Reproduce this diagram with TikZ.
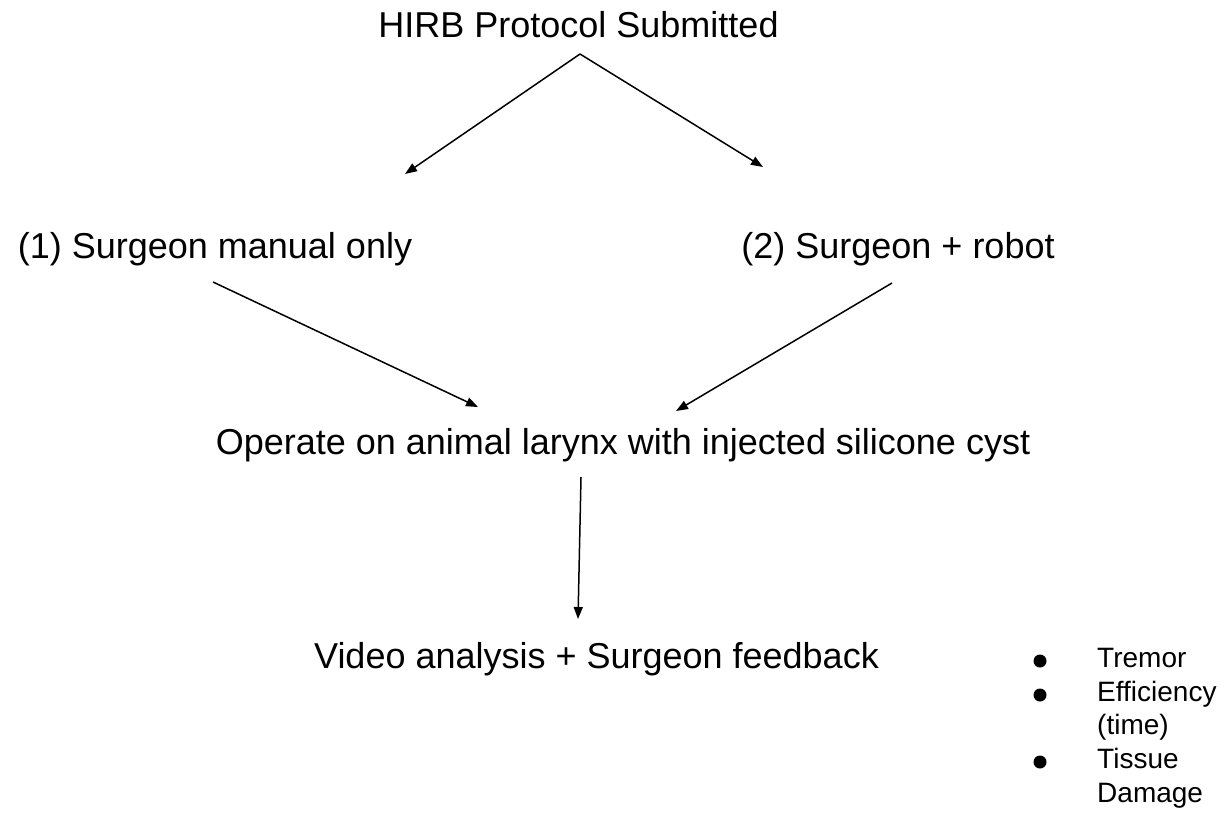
\documentclass[tikz,border=0pt]{standalone}
\usepackage{fontspec}
\setmainfont{Liberation Sans}
\usetikzlibrary{arrows.meta}

\begin{document}
\begin{tikzpicture}[x=1pt, y=-1pt,
  label/.style={inner sep=0pt, anchor=base, font=\fontsize{36}{43}\selectfont},
  item/.style={inner sep=0pt, anchor=base west, font=\fontsize{28}{34}\selectfont},
  dot/.style={circle, fill=black, inner sep=0pt, minimum size=13pt},
  flow/.style={line width=1.5pt, -{Triangle[length=12pt, width=9pt]}}
]
\useasboundingbox (0,0) rectangle (1225,815);

% stage labels
\node[label] (hirb)   at (578.5,37)  {HIRB Protocol Submitted};
\node[label] (manual) at (215,258)   {(1) Surgeon manual only};
\node[label] (robot)  at (898,258)   {(2) Surgeon + robot};
\node[label] (oper)   at (623,454)   {Operate on animal larynx with injected silicone cyst};
\node[label] (video)  at (596.5,668) {Video analysis + Surgeon feedback};

% arrow end points
\coordinate (hirbOut)    at (580,54);
\coordinate (manualIn)   at (405,174);
\coordinate (robotIn)    at (763,167);
\coordinate (manualOut)  at (213,282);
\coordinate (robotOut)   at (892,283);
\coordinate (operInL)    at (478,407);
\coordinate (operInR)    at (676,411);
\coordinate (operOut)    at (581,477);
\coordinate (videoIn)    at (578,619);

\draw[flow] (hirbOut) -- (manualIn);
\draw[flow] (hirbOut) -- (robotIn);
\draw[flow] (manualOut) -- (operInL);
\draw[flow] (robotOut) -- (operInR);
\draw[flow] (operOut) -- (videoIn);

% measured outcomes
\node[dot] (b1) at (1040,661) {};
\node[dot] (b2) at (1040,695) {};
\node[dot] (b3) at (1040,762) {};
\node[item] (m1) at (1097,667) {Tremor};
\node[item] (m2) at (1097,701) {Efficiency};
\node[item] (m2b) at (1097,734) {(time)};
\node[item] (m3) at (1097,768) {Tissue};
\node[item] (m3b) at (1097,802) {Damage};
\end{tikzpicture}
\end{document}
